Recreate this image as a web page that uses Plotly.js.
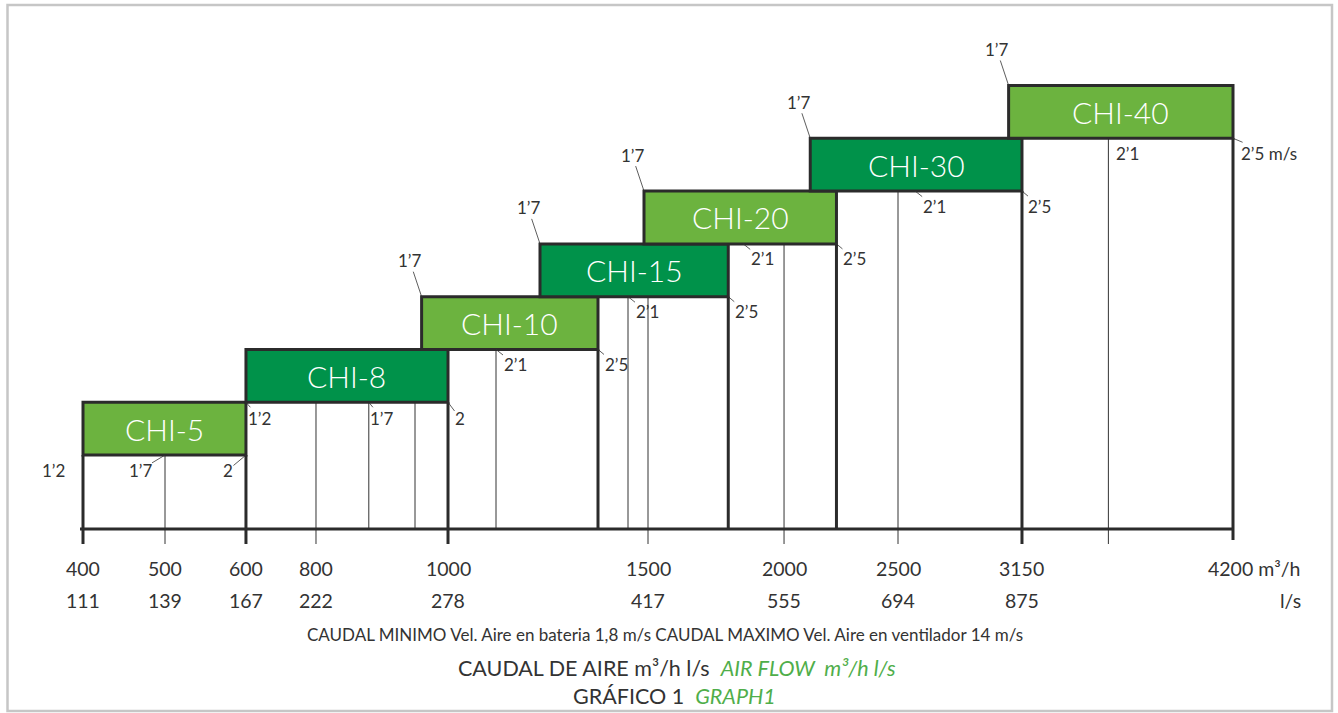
<!DOCTYPE html>
<html><head><meta charset="utf-8">
<script src="https://cdn.plot.ly/plotly-3.0.1.min.js"></script>
<style>html,body{margin:0;padding:0;background:#fff;}#chart{width:1338px;height:713px;}</style>
</head><body><div id="chart"></div>
<script>
// ---- data ----
const TICK_FLOW = [400, 500, 600, 800, 1000, 1500, 2000, 2500, 3150, 4200];   // m3/h
const TICK_LS   = ['111', '139', '167', '222', '278', '417', '555', '694', '875', ''];   // l/s
const EXTRA_TICK_FLOW = [3580];
const MODELS   = ['CHI-5', 'CHI-8', 'CHI-10', 'CHI-15', 'CHI-20', 'CHI-30', 'CHI-40'];
const FLOW_MIN = [400, 600, 960, 1230, 1490, 2115, 3080];
const FLOW_MAX = [600, 1000, 1375, 1795, 2230, 3150, 4200];
const FLOW_MID = [500, 880, 1120, 1450, 1850, 2590, 3580];
const VEL_MIN  = ['1’2', '1’2', '1’7', '1’7', '1’7', '1’7', '1’7'];
const VEL_MID  = ['1’7', '1’7', '2’1', '2’1', '2’1', '2’1', '2’1'];
const VEL_MAX  = ['2', '2', '2’5', '2’5', '2’5', '2’5', '2’5 m/s'];
const GUIDE_FLOW = [400, 500, 600, 800, 880, 950, 1000, 1120, 1375, 1450, 1500, 1795, 2000, 2230, 2500, 3150, 3580, 4200];

// ---- axis scale (the printed flow axis is not proportional) ----
const TICK_POS = [0, 0.0713, 0.1417, 0.2026, 0.3174, 0.4913, 0.6096, 0.7087, 0.8165, 1];
function pos(f) {
  for (let k = 0; k < TICK_FLOW.length - 1; k++) {
    if (f <= TICK_FLOW[k + 1]) {
      const t = (f - TICK_FLOW[k]) / (TICK_FLOW[k + 1] - TICK_FLOW[k]);
      return TICK_POS[k] + t * (TICK_POS[k + 1] - TICK_POS[k]);
    }
  }
  return 1;
}

const W = 1338, H = 713;
const X0PX = 83, X1PX = 1233, AXPX = 529, UNIT = 52.8;
const BASE = 1.4;
const FONT = 'Lato, "Open Sans", sans-serif';
const INK = '#2b2b2b';
const TXT = '#333';
const LIGHT = '#6cb33f', DARK = '#00924a';
const TICKLEN = 15 / UNIT;

const xr = [-X0PX / (X1PX - X0PX), 1 + (W - X1PX) / (X1PX - X0PX)];
const yr = [-(H - AXPX) / UNIT, AXPX / UNIT];

function boxBottom(i) { return BASE + i; }
function lowestCover(f) {
  let m = Infinity;
  for (let i = 0; i < MODELS.length; i++) if (f >= FLOW_MIN[i] && f <= FLOW_MAX[i]) m = Math.min(m, boxBottom(i));
  return m;
}

// vertical guide lines
const thin = {x: [], y: []}, thick = {x: [], y: []};
GUIDE_FLOW.forEach(f => {
  const isThick = FLOW_MAX.includes(f) || f === FLOW_MIN[0];
  const isTick = TICK_FLOW.includes(f) || EXTRA_TICK_FLOW.includes(f);
  let yb = isTick ? -TICKLEN : 0;
  if (f === TICK_FLOW[TICK_FLOW.length - 1]) yb = -11 / UNIT;
  const t = isThick ? thick : thin;
  t.x.push(pos(f), pos(f), null);
  t.y.push(yb, lowestCover(f), null);
});

const traces = [
  {type: 'scatter', mode: 'lines', x: thin.x, y: thin.y, line: {color: '#333', width: 1}, hoverinfo: 'skip', showlegend: false},
  {type: 'scatter', mode: 'lines', x: thick.x, y: thick.y, line: {color: INK, width: 3}, hoverinfo: 'skip', showlegend: false},
  {type: 'scatter', mode: 'lines', x: [pos(TICK_FLOW[0]) - 3 / (X1PX - X0PX), pos(TICK_FLOW[TICK_FLOW.length - 1])], y: [0, 0],
   line: {color: INK, width: 3}, hoverinfo: 'skip', showlegend: false}
];

const shapes = [];
const annotations = [];
MODELS.forEach((m, i) => {
  const xa = pos(FLOW_MIN[i]), xb = pos(FLOW_MAX[i]);
  shapes.push({type: 'rect', xref: 'x', yref: 'y', x0: xa, x1: xb, y0: boxBottom(i), y1: boxBottom(i) + 1,
    fillcolor: i % 2 === 0 ? LIGHT : DARK, line: {color: INK, width: 3}, layer: 'above'});
  annotations.push({xref: 'x', yref: 'y', x: (xa + xb) / 2, y: boxBottom(i) + 0.5, text: m, showarrow: false,
    font: {family: FONT, size: 30, color: '#fff', weight: 300}});
  const lab = (x, y, text, ax, ay, hide) => annotations.push({xref: 'x', yref: 'y', x, y, text, showarrow: true,
    ax, ay, arrowhead: 0, arrowwidth: 0.8, arrowcolor: hide ? 'rgba(0,0,0,0)' : '#333', borderpad: 0,
    font: {family: FONT, size: 17, color: TXT}});
  // min velocity
  if (i === 0) lab(xa, boxBottom(i), VEL_MIN[i], -30, 15, true);
  else if (i === 1) lab(xa, boxBottom(i), VEL_MIN[i], 14, 16);
  else lab(xa, boxBottom(i) + 1, VEL_MIN[i], -12, -36);
  // mid velocity
  const xm = pos(FLOW_MID[i]);
  if (i === 0) lab(xm, boxBottom(i), VEL_MID[i], -25, 15);
  else if (i === 1) lab(xm, boxBottom(i), VEL_MID[i], 13, 16);
  else lab(xm, boxBottom(i), VEL_MID[i], 19, 15, i === MODELS.length - 1);
  // max velocity
  if (i === 0) lab(xb, boxBottom(i), VEL_MAX[i], -18, 15);
  else if (i === 1) lab(xb, boxBottom(i), VEL_MAX[i], 12, 16);
  else if (i === MODELS.length - 1) lab(xb, boxBottom(i), VEL_MAX[i], 36, 15);
  else lab(xb, boxBottom(i), VEL_MAX[i], 18, 15);
});

// axis labels (two rows)
const ROW1 = -(568 - AXPX) / UNIT, ROW2 = -(600 - AXPX) / UNIT;
const NUMFONT = {family: FONT, size: 19.5, color: TXT};
TICK_FLOW.forEach((f, k) => {
  const last = k === TICK_FLOW.length - 1;
  annotations.push({xref: 'x', yref: 'y', x: pos(f), y: ROW1, text: last ? f + ' m³/h' : String(f), showarrow: false,
    xanchor: last ? 'left' : 'center', xshift: last ? -27 : 0, font: NUMFONT});
  if (!last) annotations.push({xref: 'x', yref: 'y', x: pos(f), y: ROW2, text: TICK_LS[k], showarrow: false,
    font: NUMFONT});
});
annotations.push({xref: 'x', yref: 'y', x: pos(TICK_FLOW[TICK_FLOW.length - 1]), y: ROW2, text: 'l/s', showarrow: false,
  xanchor: 'right', xshift: 70, font: NUMFONT});

// captions
const GREEN = '#4fae4a';
const py = px => 1 - px / H;
annotations.push({xref: 'paper', yref: 'paper', x: 665 / W, y: py(634), xanchor: 'center', yanchor: 'middle', showarrow: false,
  text: 'CAUDAL MINIMO Vel. Aire en bateria 1,8 m/s CAUDAL MAXIMO Vel. Aire en ventilador 14 m/s',
  font: {family: FONT, size: 17, color: '#333'}});
annotations.push({xref: 'paper', yref: 'paper', x: 677 / W, y: py(668), xanchor: 'center', yanchor: 'middle', showarrow: false,
  text: 'CAUDAL DE AIRE m³/h l/s\u00a0\u00a0<i><span style="color:' + GREEN + '">AIR FLOW\u00a0\u00a0m³/h l/s</span></i>',
  font: {family: FONT, size: 21.5, color: '#333'}});
annotations.push({xref: 'paper', yref: 'paper', x: 674 / W, y: py(696), xanchor: 'center', yanchor: 'middle', showarrow: false,
  text: 'GRÁFICO 1\u00a0\u00a0<i><span style="color:' + GREEN + '">GRAPH1</span></i>',
  font: {family: FONT, size: 21.5, color: '#333'}});

// frame
shapes.push({type: 'rect', xref: 'paper', yref: 'paper', x0: 7.5 / W, x1: 1332 / W, y0: py(711), y1: py(5),
  line: {color: '#c6c6c6', width: 2.5}, fillcolor: 'rgba(0,0,0,0)', layer: 'above'});

const layout = {
  width: W, height: H, autosize: false,
  margin: {l: 0, r: 0, t: 0, b: 0, pad: 0},
  paper_bgcolor: '#fff', plot_bgcolor: '#fff',
  xaxis: {range: xr, visible: false, fixedrange: true},
  yaxis: {range: yr, visible: false, fixedrange: true},
  shapes, annotations, showlegend: false,
  font: {family: FONT}
};
Plotly.newPlot('chart', traces, layout, {staticPlot: true, displayModeBar: false});
</script></body></html>
